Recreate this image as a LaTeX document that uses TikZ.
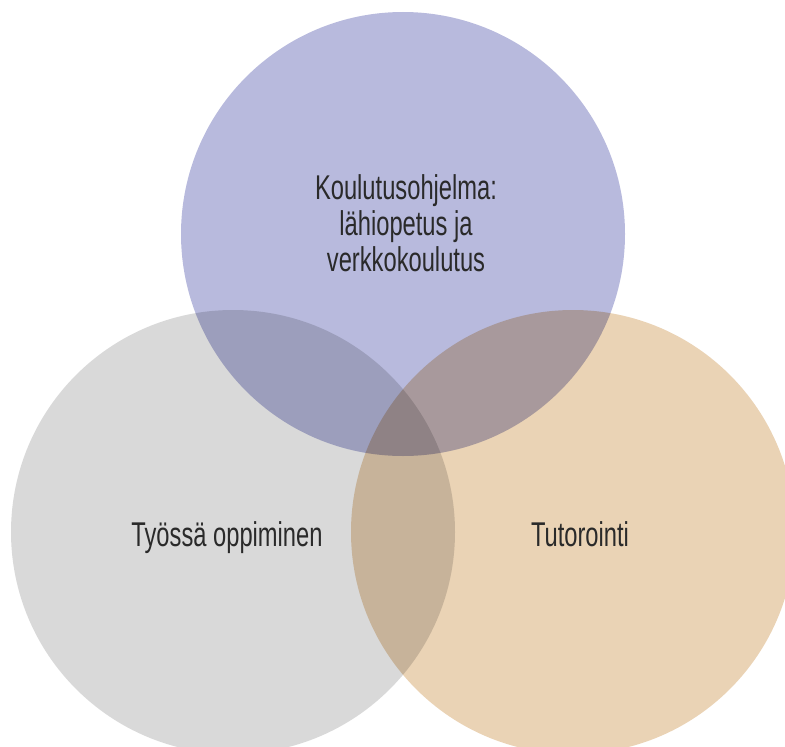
\documentclass[tikz,border=0pt]{standalone}
\usepackage{fontspec}
\setmainfont{Liberation Sans}[FakeStretch=0.69]
\definecolor{lav}{HTML}{B8BADD}
\definecolor{grayc}{HTML}{D9D9D9}
\definecolor{peach}{HTML}{EAD3B5}
\definecolor{txt}{HTML}{2A2A2A}
\begin{document}
\begin{tikzpicture}[x=1bp,y=-1bp,
  lbl/.style={text=txt,font=\fontsize{34.5}{36}\selectfont,inner sep=0pt,align=center}]
\useasboundingbox (0,0) rectangle (785,747);
\begin{scope}
\clip (0,0) rectangle (785,747);
\begin{scope}[blend group=multiply]
\fill[grayc] (233,532) circle[radius=222];
\fill[peach] (573,532) circle[radius=222];
\fill[lav] (403,234) circle[radius=222];
\end{scope}
\end{scope}
\node[lbl,anchor=base] (k1) at (406,199) {Koulutusohjelma:};
\node[lbl,anchor=base] (k2) at (406,235) {lähiopetus ja};
\node[lbl,anchor=base] (k3) at (406,271) {verkkokoulutus};
\node[lbl,anchor=base] (ty) at (227,546) {Työssä oppiminen};
\node[lbl,anchor=base] (tu) at (580,546) {Tutorointi};
\end{tikzpicture}
\end{document}
